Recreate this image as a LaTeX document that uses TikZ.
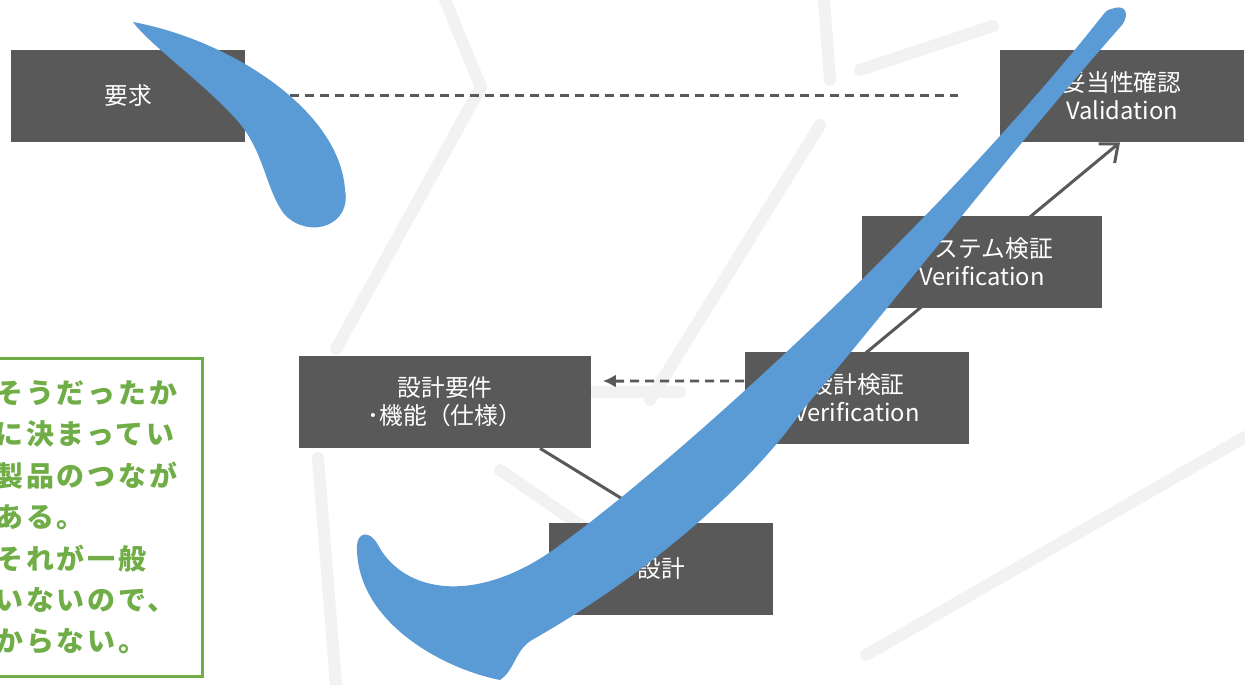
\documentclass[tikz,border=0pt]{standalone}
\usepackage{fontspec}
\setmainfont{Noto Sans CJK JP}
\newfontfamily\notefont{Noto Sans CJK JP}[LetterSpace=10]
\usetikzlibrary{arrows.meta}
\usepackage{xcolor}

\definecolor{boxgray}{HTML}{595959}
\definecolor{checkblue}{HTML}{5B9BD5}
\definecolor{notegreen}{HTML}{70AD47}

\pgfdeclarelayer{shade}
\pgfdeclarelayer{links}
\pgfsetlayers{shade,links,main}

\begin{document}
\begin{tikzpicture}[
x=0.02cm, y=-0.02cm,
stage/.style={fill=boxgray,
text=white,
minimum height=1.84cm,
inner sep=0pt,
align=center,
font=\fontsize{13.5pt}{16pt}\selectfont},
link/.style={draw=boxgray, line width=0.06cm},
trace/.style={link, dash pattern=on 0.18cm off 0.12cm},
facet/.style={draw=black!5, line width=0.24cm, line cap=round},
notebox/.style={draw=notegreen,
line width=0.06cm,
fill=white,
anchor=north west,
minimum width=4.3cm,
minimum height=6.36cm,
inner xsep=0.16cm,
text width=3.98cm,
align=left,
text=notegreen,
font=\notefont\bfseries\fontsize{15.9pt}{23.6pt}\selectfont}
]

\useasboundingbox (0,0) rectangle (1245,685);

% faint low-poly backdrop
\begin{pgfonlayer}{shade}
\fill[white] (0,0) rectangle (1245,685);
\draw[facet] (445,0) -- (481,87) -- (336,349);
\draw[facet] (318,458) -- (336,685);
\draw[facet] (820,125) -- (650,400);
\draw[facet] (866,655) -- (1245,437);
\draw[facet] (824,0) -- (830,80);
\draw[facet] (860,70) -- (993,26);
\draw[facet] (500,470) -- (583,527);
\draw[facet] (580,392) -- (680,392);
\end{pgfonlayer}

% V-model stages
\node[stage, minimum width=4.68cm] (yokyu) at (128,96) {要求};
\node[stage, minimum width=4.88cm] (dato) at (1122,96) {妥当性確認\\Validation};
\node[stage, minimum width=4.82cm] (system) at (982,262) {システム検証\\Verification};
\node[stage, minimum width=4.5cm] (kensho) at (857,398) {設計検証\\Verification};
\node[stage, minimum width=5.86cm] (yoken) at (445,402) {設計要件\\･機能（仕様）};
\node[stage, minimum width=4.5cm] (sekkei) at (661,569) {設計};

\begin{pgfonlayer}{links}
\draw[trace] (yokyu.east) -- ([xshift=-0.84cm]dato.west);
\draw[trace, -{Latex[length=0.26cm,width=0.26cm]}] ([yshift=0.34cm]kensho.west) -- ([xshift=0.22cm,yshift=0.42cm]yoken.east);
\draw[link] ([xshift=1.9cm]yoken.south) -- (sekkei.north);
\draw[link, -{Straight Barb[length=0.3cm,width=0.5cm]}] (sekkei.north) -- ([xshift=-0.04cm]dato.south);
\end{pgfonlayer}

% note on the left
\node[notebox] (note) at (-14,357) {そうだったか\\に決まってい\\製品のつなが\\ある。\\それが一般\\いないので、\\からない。};

% brush check mark
\fill[checkblue] (133,22) .. controls (230,40) and (340,110) .. (345,190)
  .. controls (352,225) and (310,240) .. (285,215)
  .. controls (265,190) and (265,150) .. (235,118)
  .. controls (200,80) and (150,45) .. (133,22) -- cycle;
\fill[checkblue] (1115,8) .. controls (1125,5) and (1130,14) .. (1122,25)
  .. controls (1020,140) and (900,295) .. (800,413)
  .. controls (780,445) and (690,550) .. (532,640)
  .. controls (515,650) and (515,670) .. (500,680)
  .. controls (440,668) and (355,620) .. (357,545)
  .. controls (358,532) and (370,530) .. (378,545)
  .. controls (405,595) and (480,605) .. (560,545)
  .. controls (690,450) and (945,215) .. (1103,15)
  .. controls (1107,10) .. (1115,8) -- cycle;

\end{tikzpicture}
\end{document}
